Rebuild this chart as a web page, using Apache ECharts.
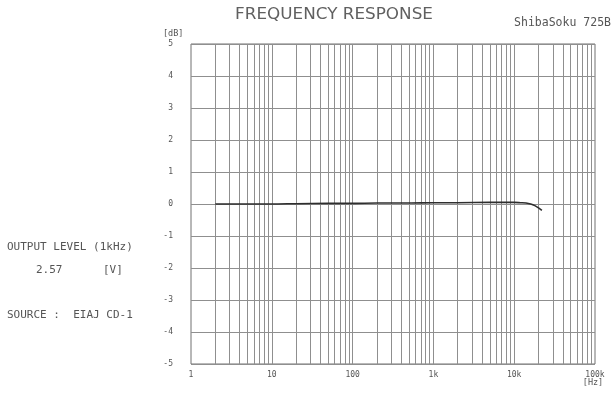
<!DOCTYPE html>
<html>
<head>
<meta charset="utf-8">
<script src="https://cdn.jsdelivr.net/npm/echarts@6/dist/echarts.min.js"></script>
<style>
  html, body { margin: 0; padding: 0; background: #fff; }
  #chart { width: 614px; height: 395px; }
</style>
</head>
<body>
<div id="chart"></div>
<script>
// Measured response: frequency (Hz) and level relative to 1 kHz (dB)
const freqHz = [2, 5, 10, 20, 50, 100, 200, 500, 1000, 2000, 5000, 10000, 12000, 14000, 16000, 18000, 20000, 22000];
const levelDb = [0.0, 0.0, 0.0, 0.01, 0.02, 0.02, 0.03, 0.03, 0.04, 0.04, 0.05, 0.05, 0.04, 0.03, 0.0, -0.05, -0.12, -0.2];

// Axis tick labels
const xTickValues = [1, 10, 100, 1000, 10000, 100000];
const xTickLabels = ['1', '10', '100', '1k', '10k', '100k'];
const yMin = -5, yMax = 5;

// Log-paper grid: 1..9 in every decade between 1 Hz and 100 kHz
const gridFreqs = [];
for (let d = 1; d <= 10000; d *= 10) {
  for (let m = 1; m <= 9; m++) {
    const f = m * d;
    if (f > 1) gridFreqs.push(f);
  }
}

const FONT = '"DejaVu Sans Mono", monospace';
const TXT = '#555';
const GRID = '#8f8f8f';

const chart = echarts.init(document.getElementById('chart'), null, { renderer: 'canvas' });

chart.setOption({
  animation: false,
  backgroundColor: '#fff',
  grid: {
    left: 191, right: 19, top: 44, bottom: 31,
    show: true, borderColor: '#707070', borderWidth: 1
  },
  xAxis: {
    type: 'log', logBase: 10, min: 1, max: 100000,
    axisLine: { show: false },
    axisTick: { show: false },
    splitLine: { show: false },
    axisLabel: {
      margin: 7,
      color: TXT, fontFamily: FONT, fontSize: 8,
      formatter: v => {
        const i = xTickValues.indexOf(Math.round(v));
        return i >= 0 ? xTickLabels[i] : '';
      }
    }
  },
  yAxis: {
    type: 'value', min: yMin, max: yMax, interval: 1,
    axisLine: { show: false },
    axisTick: { show: false },
    splitLine: { show: true, lineStyle: { color: GRID, width: 1 } },
    axisLabel: { margin: 18, color: TXT, fontFamily: FONT, fontSize: 8 }
  },
  series: [
    {
      type: 'line',
      data: [],
      silent: true,
      markLine: {
        silent: true,
        symbol: ['none', 'none'],
        label: { show: false },
        lineStyle: { color: GRID, width: 1, type: 'solid' },
        data: gridFreqs.map(f => ({ xAxis: f }))
      }
    },
    {
      type: 'line',
      data: freqHz.map((f, i) => [f, levelDb[i]]),
      showSymbol: false,
      smooth: 0.3,
      lineStyle: { color: '#2e2e2e', width: 1.6 },
      z: 5
    }
  ],
  graphic: [
    { type: 'text', x: 334, y: 15, scaleX: 1.12,
      style: { text: 'FREQUENCY RESPONSE', font: '15px "DejaVu Sans"', fill: '#606060', align: 'center', verticalAlign: 'middle' } },
    { type: 'text', x: 611, y: 23,
      style: { text: 'ShibaSoku 725B', font: '11.5px ' + FONT, fill: TXT, align: 'right', verticalAlign: 'middle' } },
    { type: 'text', x: 163, y: 34,
      style: { text: '[dB]', font: '8.5px ' + FONT, fill: TXT, align: 'left', verticalAlign: 'middle' } },
    { type: 'text', x: 593, y: 383,
      style: { text: '[Hz]', font: '8.5px ' + FONT, fill: TXT, align: 'center', verticalAlign: 'middle' } },
    { type: 'text', x: 7, y: 247,
      style: { text: 'OUTPUT LEVEL (1kHz)', font: '11px ' + FONT, fill: TXT, align: 'left', verticalAlign: 'middle' } },
    { type: 'text', x: 36, y: 270,
      style: { text: '2.57', font: '11px ' + FONT, fill: TXT, align: 'left', verticalAlign: 'middle' } },
    { type: 'text', x: 103, y: 270,
      style: { text: '[V]', font: '11px ' + FONT, fill: TXT, align: 'left', verticalAlign: 'middle' } },
    { type: 'text', x: 7, y: 315,
      style: { text: 'SOURCE :  EIAJ CD-1', font: '11px ' + FONT, fill: TXT, align: 'left', verticalAlign: 'middle' } }
  ]
});
</script>
</body>
</html>
